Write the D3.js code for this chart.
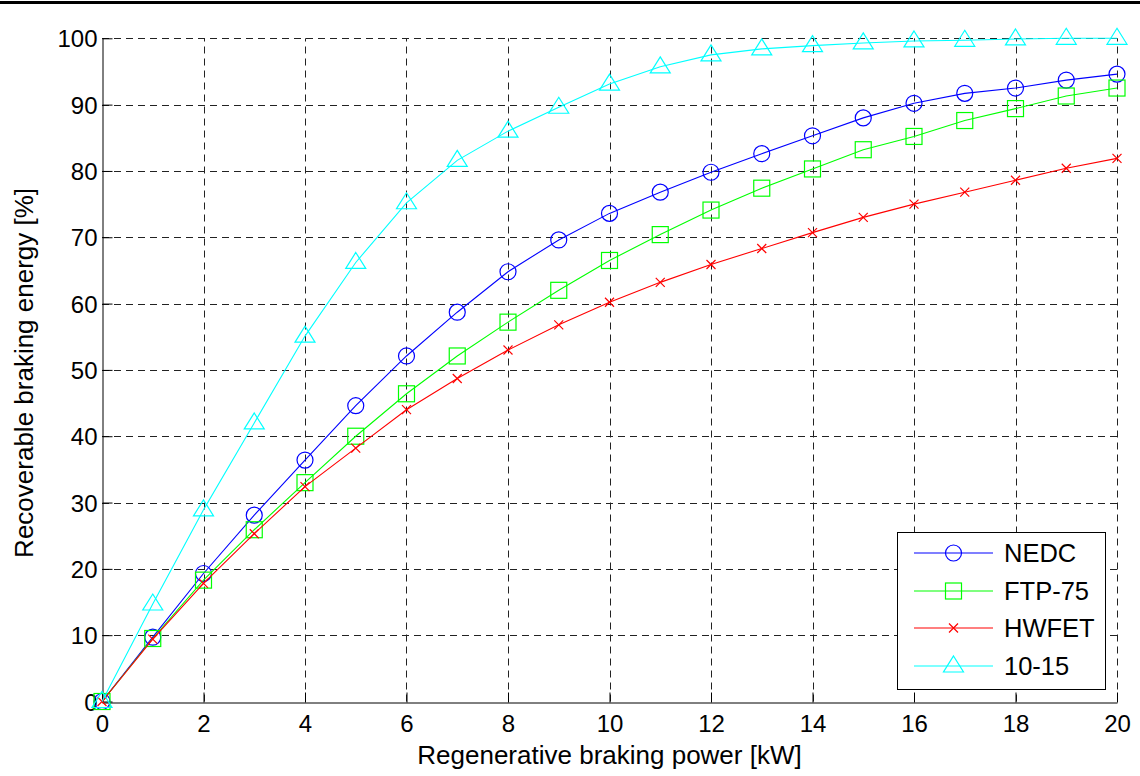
<!DOCTYPE html>
<html><head><meta charset="utf-8">
<script src="https://cdn.jsdelivr.net/npm/d3@7"></script>
<style>
html,body{margin:0;padding:0;background:#fff;}
svg{display:block;font-family:"Liberation Sans",Arial,sans-serif;}
</style></head>
<body>
<svg id="chart" width="1140" height="776"></svg>
<script>
const powerKW = [0,1,2,3,4,5,6,7,8,9,10,11,12,13,14,15,16,17,18,19,20];
const nedc  = [0,9.7,19.3,28.1,36.4,44.6,52.1,58.7,64.8,69.6,73.6,76.8,79.8,82.6,85.3,88.0,90.2,91.7,92.5,93.7,94.6];
const ftp75 = [0,9.5,18.3,25.9,33.0,40.0,46.4,52.1,57.2,62.0,66.5,70.4,74.1,77.4,80.3,83.2,85.2,87.6,89.4,91.3,92.5];
const hwfet = [0,9.4,17.8,25.3,32.4,38.2,44.0,48.7,53.0,56.8,60.2,63.2,65.9,68.3,70.7,73.0,75.0,76.8,78.6,80.4,81.9];
const jp1015 = [0,14.7,28.9,42.0,55.1,66.2,75.2,81.6,86.0,89.6,93.1,95.7,97.5,98.4,98.9,99.3,99.6,99.7,99.9,100,100];
const seriesNames = ["NEDC","FTP-75","HWFET","10-15"];
const xTicks = [0,2,4,6,8,10,12,14,16,18,20];
const yTicks = [0,10,20,30,40,50,60,70,80,90,100];
const xLabel = "Regenerative braking power [kW]";
const yLabel = "Recoverable braking energy [%]";

const series = [
  {name: seriesNames[0], values: nedc,  color: "#0000ff", marker: "circle"},
  {name: seriesNames[1], values: ftp75, color: "#00ff00", marker: "square"},
  {name: seriesNames[2], values: hwfet, color: "#ff0000", marker: "cross"},
  {name: seriesNames[3], values: jp1015, color: "#00ffff", marker: "triangle"}
];

const svg = d3.select("#chart");
const L = 102, R = 1117, T = 38.3, B = 701.5;
const x = d3.scaleLinear().domain([0,20]).range([L,R]);
const y = d3.scaleLinear().domain([0,100]).range([B,T]);

// top border line
svg.append("rect").attr("x",0).attr("y",1).attr("width",1140).attr("height",3).attr("fill","#000");

// grid
const grid = svg.append("g").attr("stroke","#222").attr("stroke-width",1).attr("stroke-dasharray","7,5").attr("fill","none");
xTicks.forEach(t => { if (t>0) grid.append("line").attr("x1",Math.round(x(t))+0.5).attr("x2",Math.round(x(t))+0.5).attr("y1",B).attr("y2",T); });
yTicks.forEach(t => { if (t>0) grid.append("line").attr("y1",Math.round(y(t))+0.5).attr("y2",Math.round(y(t))+0.5).attr("x1",L).attr("x2",R); });

// axes
const xAxis = d3.axisBottom(x).tickValues(xTicks).tickSizeInner(-10).tickSizeOuter(0).tickPadding(12);
const yAxis = d3.axisLeft(y).tickValues(yTicks).tickSizeInner(-10).tickSizeOuter(0).tickPadding(5);
const gx = svg.append("g").attr("transform",`translate(0,${Math.round(B)+0.5})`).call(xAxis);
const gy = svg.append("g").attr("transform",`translate(${L+0.5},0)`).call(yAxis);
[gx,gy].forEach(g => {
  g.select(".domain").attr("stroke","#000").attr("stroke-width",1);
  g.selectAll(".tick line").attr("stroke","#000");
  g.selectAll(".tick text").attr("fill","#000").attr("font-size",24).attr("font-family","'Liberation Sans',Arial,sans-serif");
});
gy.selectAll(".tick text").attr("dy","0.36em");

svg.append("text").attr("x",(L+R)/2).attr("y",764).attr("text-anchor","middle")
  .attr("font-size",26).attr("fill","#000").text(xLabel);
svg.append("text").attr("transform",`translate(33,${(T+B)/2+3}) rotate(-90)`).attr("text-anchor","middle")
  .attr("font-size",26).attr("fill","#000").text(yLabel);

function drawMarker(g, type, cx, cy, color) {
  if (type === "circle") {
    g.append("circle").attr("cx",cx).attr("cy",cy).attr("r",8).attr("fill","none").attr("stroke",color).attr("stroke-width",1.2);
  } else if (type === "square") {
    g.append("rect").attr("x",cx-8).attr("y",cy-8).attr("width",16).attr("height",16).attr("fill","none").attr("stroke",color).attr("stroke-width",1.2);
  } else if (type === "cross") {
    const s = 4.5;
    g.append("path").attr("d",`M${cx-s},${cy-s}L${cx+s},${cy+s}M${cx-s},${cy+s}L${cx+s},${cy-s}`).attr("stroke",color).attr("stroke-width",1.2).attr("fill","none");
  } else if (type === "triangle") {
    g.append("path").attr("d",`M${cx},${cy-10}L${cx+10},${cy+6}L${cx-10},${cy+6}Z`).attr("fill","none").attr("stroke",color).attr("stroke-width",1.2);
  }
}

const line = d3.line().x((d,i)=>x(powerKW[i])).y(d=>y(d));
series.forEach(s => {
  const g = svg.append("g");
  g.append("path").datum(s.values).attr("d",line).attr("fill","none").attr("stroke",s.color).attr("stroke-width",1.1);
  s.values.forEach((v,i) => drawMarker(g, s.marker, x(powerKW[i]), y(v), s.color));
});

// legend
const lg = svg.append("g");
lg.append("rect").attr("x",897.5).attr("y",532.5).attr("width",208).attr("height",157).attr("fill","#fff").attr("stroke","#000").attr("stroke-width",1);
const ly = [553, 591, 628, 666];
series.forEach((s,i) => {
  lg.append("line").attr("x1",914).attr("x2",993).attr("y1",ly[i]).attr("y2",ly[i]).attr("stroke",s.color).attr("stroke-width",1.1);
  drawMarker(lg, s.marker, 953.5, ly[i], s.color);
  lg.append("text").attr("x",1004).attr("y",ly[i]).attr("dy","0.36em").attr("font-size",25.5).attr("fill","#000").text(s.name);
});
</script>
</body></html>
